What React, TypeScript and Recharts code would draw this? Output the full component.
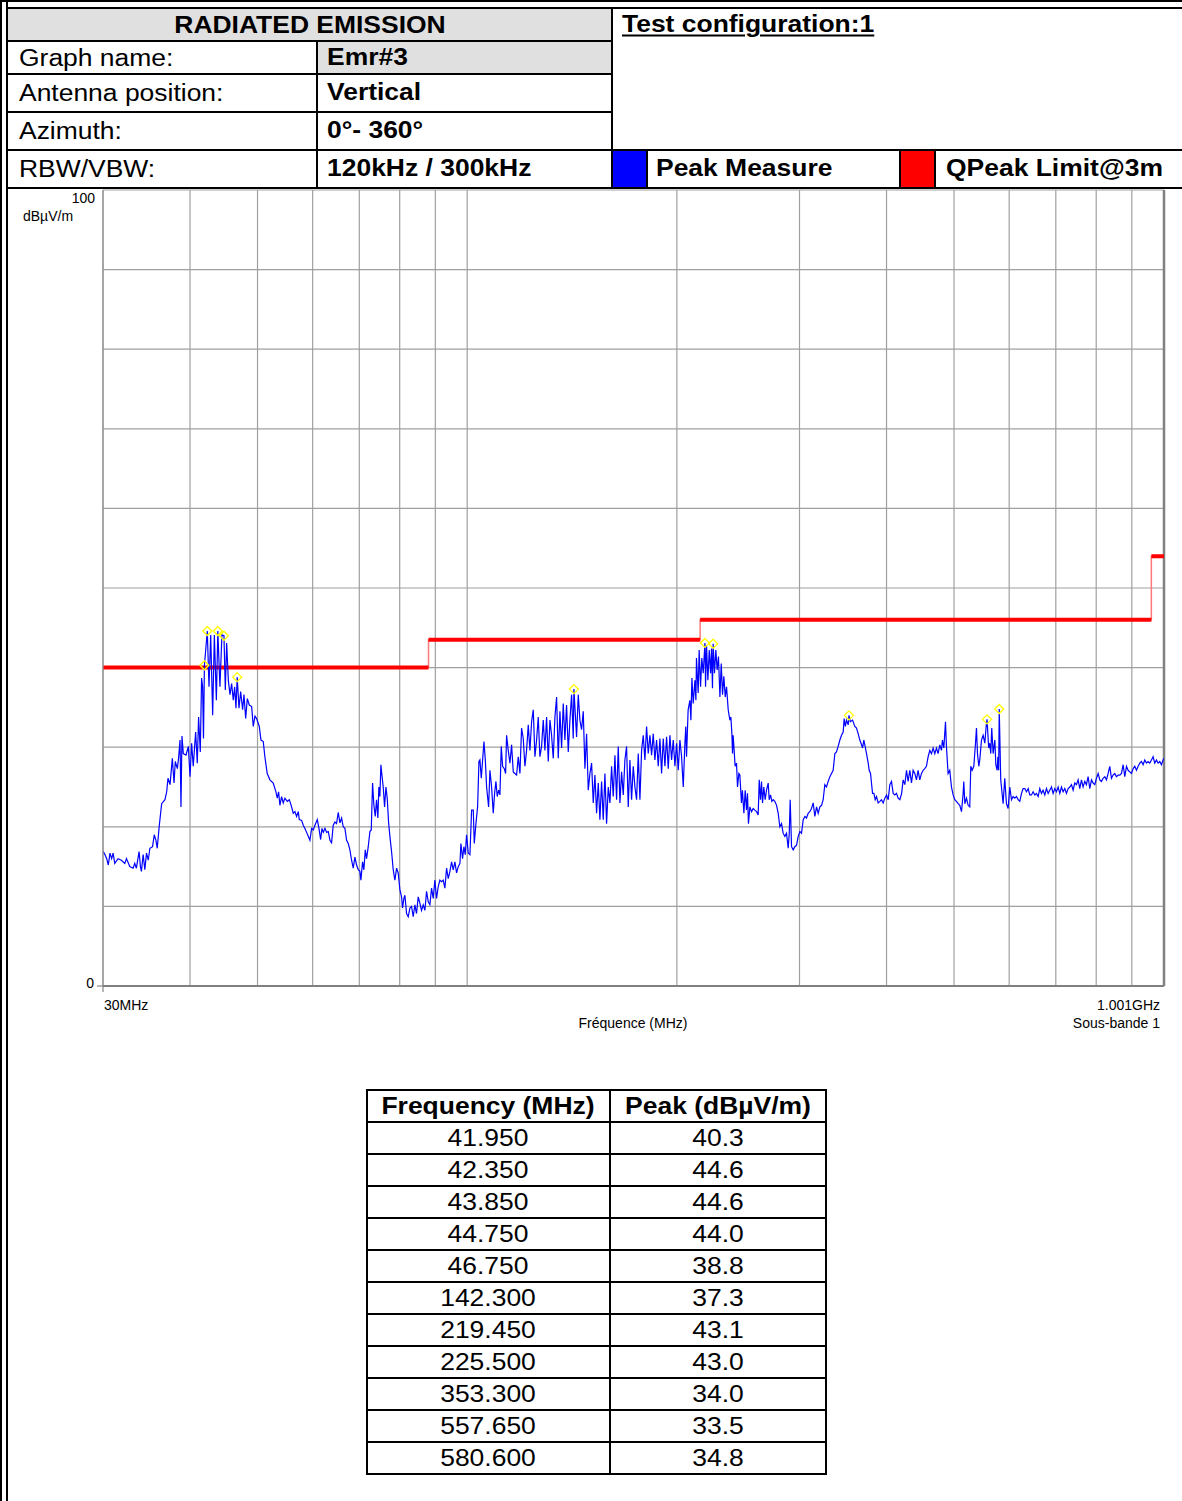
import React from 'react';
import { ComposedChart, Line, Scatter, XAxis, YAxis, CartesianGrid, ReferenceLine } from 'recharts';

const FONT = '"Liberation Sans", Arial, Helvetica, sans-serif';

// Peak Measure trace, [frequency MHz, level dBµV/m]
const traceBand1: [number, number][] = [
  [30.03,16.9],[30.20,16.5],[30.37,16.0],[30.53,15.2],[30.70,16.7],[30.87,16.0],[31.02,16.7],[31.19,15.4],[31.53,16.0],[31.88,15.8],
  [32.24,15.4],[32.42,16.0],[32.78,15.0],[33.14,14.8],[33.32,15.4],[33.50,14.8],[33.80,16.9],[33.95,15.0],[34.06,14.4],[34.26,16.5],
  [34.45,14.6],[34.64,16.7],[34.84,15.8],[35.03,17.3],[35.34,17.5],[35.54,19.0],[35.74,18.3],[35.89,17.3],[36.14,20.2],[36.42,22.9],
  [36.82,23.4],[37.03,24.4],[37.19,26.1],[37.44,25.3],[37.73,28.6],[37.94,25.5],[38.10,28.2],[38.36,27.3],[38.53,28.8],[38.70,30.9],
  [38.82,22.5],[38.95,31.4],[39.12,29.2],[39.47,29.0],[39.78,30.1],[40.00,26.3],[40.21,30.5],[40.43,27.6],[40.75,31.9],[40.97,28.0],
  [41.15,33.8],[41.38,29.4],[41.56,38.7],[41.70,37.6],[41.82,31.1],[41.95,40.3],[42.35,44.6],[42.59,37.6],[42.83,44.1],[43.11,34.0],
  [43.35,44.1],[43.64,35.9],[43.85,44.6],[44.16,37.6],[44.45,44.1],[44.75,44.0],[44.95,37.2],[45.15,43.1],[45.40,38.4],[45.65,36.6],
  [45.90,38.0],[46.15,35.9],[46.36,37.6],[46.56,34.9],[46.75,38.8],[47.03,34.9],[47.29,37.0],[47.60,34.7],[47.81,36.6],[48.08,33.6],
  [48.34,36.1],[48.66,35.3],[49.04,35.1],[49.30,32.6],[49.58,33.9],[49.85,33.6],[50.29,32.6],[50.57,30.9],[50.96,30.7],[51.23,28.8],
  [51.63,26.7],[52.09,25.9],[52.67,25.5],[53.14,24.4],[53.37,23.6],[53.61,24.4],[53.84,22.7],[54.14,23.8],[54.44,23.0],[54.74,23.6],
  [55.17,23.2],[55.54,23.4],
];

const traceBand2: [number, number][] = [
  [55.65,23.2],[55.96,22.5],[56.27,21.7],[56.58,21.9],[56.89,21.3],[57.21,21.9],[57.40,20.9],[57.85,20.8],[58.16,20.2],[58.48,19.8],
  [58.81,19.3],[59.13,18.8],[59.46,18.3],[59.79,19.8],[60.12,19.6],[60.45,20.2],[60.92,20.9],[61.26,19.8],[61.60,18.4],[61.87,19.8],
  [62.14,19.3],[62.49,19.8],[62.83,19.3],[63.18,19.4],[63.53,18.3],[63.87,18.0],[64.22,20.2],[64.58,20.6],[64.93,20.4],[65.29,21.8],
  [65.66,20.5],[66.02,21.1],[66.38,20.0],[66.75,19.8],[67.12,18.3],[67.49,17.9],[67.86,17.1],[68.24,15.8],[68.61,14.8],[68.99,16.2],
  [69.37,15.2],[69.76,14.6],[70.14,14.4],[70.37,13.3],[70.76,15.6],[71.07,14.6],[71.39,17.1],[71.70,16.0],[72.10,17.5],[72.50,19.4],
  [72.82,19.6],[73.14,25.5],[73.46,22.7],[73.79,21.3],[74.11,23.4],[74.43,21.1],[74.68,25.0],[74.93,23.8],[75.18,27.8],[75.43,26.5],
  [75.76,25.0],[76.10,22.5],[76.44,25.0],[76.77,23.6],[77.11,20.6],[77.45,18.8],[77.88,16.9],[78.31,14.6],[78.74,13.3],[79.18,14.8],
  [79.61,14.2],[80.05,12.1],[80.50,11.2],[80.76,9.8],[81.12,11.0],[81.39,11.4],[81.84,9.1],[82.29,8.7],[82.75,9.8],[83.20,10.0],
  [83.66,8.7],[84.12,10.2],[84.58,9.1],[85.05,11.2],[85.52,10.4],[85.99,9.5],[86.47,10.2],[86.95,9.5],[87.43,11.9],[87.91,10.6],
  [88.40,10.2],[88.89,12.3],[89.38,11.0],[89.87,13.3],[90.37,11.0],[90.87,12.5],[91.37,13.3],[91.88,13.1],[92.38,13.3],[92.89,12.3],
  [93.41,14.8],[93.93,13.5],[94.45,14.4],[94.97,15.6],[95.49,14.6],[96.02,15.6],[96.55,14.2],[97.09,15.0],[97.63,15.4],[97.95,17.9],
  [98.48,16.0],[98.92,17.5],[99.35,16.5],[99.80,19.0],[100.35,16.7],[100.91,16.5],[101.47,22.1],[102.03,22.1],[102.37,17.9],[102.93,20.4],
  [103.50,22.5],[103.96,28.2],[104.30,28.4],[104.77,26.1],[105.23,28.4],[105.70,30.7],
];

const traceBand3: [number, number][] = [
  [106.17,28.4],[106.63,25.0],[107.34,22.5],[107.81,27.1],[108.40,25.0],[109.00,21.7],[109.48,24.2],[109.97,25.7],[110.45,23.8],[110.94,24.6],
  [111.43,24.0],[111.92,30.1],[112.42,27.6],[113.04,27.3],[113.54,26.7],[113.91,31.5],[114.54,29.6],[115.18,28.0],[115.81,30.3],[116.45,26.9],
  [117.09,26.7],[117.74,26.5],[118.39,28.8],[119.05,26.7],[119.70,32.4],[120.36,31.1],[121.03,27.6],[121.70,29.6],[122.37,32.8],[123.05,29.6],
  [123.73,33.2],[124.41,34.7],[125.10,28.8],[125.79,30.9],[126.48,33.8],[127.18,28.8],[127.88,30.1],[128.59,33.4],[129.30,29.6],[130.02,33.8],
  [130.74,28.2],[131.46,33.4],[132.18,31.5],[132.91,28.6],[133.65,33.8],[134.39,36.3],[135.13,28.6],[135.88,34.5],[136.63,29.9],[137.38,35.5],
  [138.14,30.9],[138.90,35.3],[139.67,29.4],[140.44,33.4],[141.22,36.6],[142.00,31.1],[142.30,37.3],[143.57,31.3],[144.36,36.6],[145.16,33.4],
  [145.96,32.2],[146.77,34.5],[147.58,27.3],[148.40,31.7],[149.22,24.6],[150.04,26.7],[150.87,28.0],[151.70,23.0],[152.54,26.5],[153.38,21.7],
  [154.23,25.5],[155.08,20.9],[155.94,25.7],[156.80,20.9],[157.67,26.7],[158.54,20.4],[159.42,25.0],[160.30,23.0],[161.18,27.6],[162.07,23.8],
  [162.97,29.0],[163.87,23.4],[164.77,30.1],[165.68,23.0],[166.60,26.9],[167.52,24.0],[168.44,28.4],[169.37,30.1],[170.31,22.5],[171.25,28.4],
  [172.20,23.4],[173.15,27.6],[174.11,25.0],[175.07,23.4],[176.04,29.2],[177.01,23.4],[177.99,29.6],[178.97,31.5],[179.96,28.4],[180.95,32.6],
  [181.95,29.2],[182.96,31.5],[183.97,29.0],[184.98,31.7],[186.00,28.4],[187.03,30.9],[188.07,27.6],[189.11,31.1],[190.15,26.7],[191.20,31.1],
  [192.26,27.6],[193.32,31.3],[194.39,27.3],[195.46,31.5],[196.54,28.4],[197.63,30.9],[198.72,27.6],[199.82,30.5],[200.92,27.1],[202.03,30.9],
  [203.15,28.8],[204.27,25.0],
];

const traceBand4: [number, number][] = [
  [205.4,30.5],[206.0,32.6],[206.5,28.8],[207.6,34.7],[208.8,35.9],[209.5,33.4],[210.2,38.7],[211.1,35.5],[212.3,38.4],[213.0,35.9],
  [213.4,41.2],[214.6,36.8],[215.3,42.2],[216.3,37.6],[217.2,41.2],[218.2,39.3],[219.45,43.1],[219.9,37.6],[220.6,42.8],[221.6,38.4],
  [222.6,42.2],[223.6,39.3],[224.3,42.4],[225.0,37.4],[225.5,43.0],[226.5,39.3],[227.5,42.2],[228.5,39.7],[229.5,41.4],[230.6,36.3],
  [231.6,40.5],[232.6,36.6],[233.6,38.9],[234.7,36.3],[235.7,37.6],[237.0,34.7],[238.3,33.4],[239.1,33.8],[239.9,31.7],[240.4,29.2],
  [240.9,31.5],[241.7,29.6],[242.5,27.6],[243.6,28.0],[244.4,25.0],[245.5,26.7],[246.3,26.5],[247.6,23.0],[248.4,24.6],[249.6,21.7],
  [250.7,24.6],[251.8,22.1],[252.6,24.2],[253.4,20.4],[254.6,22.5],[256.0,21.9],[257.4,22.3],[258.8,22.1],[260.3,21.9],[261.7,21.5],
  [262.6,25.9],[263.7,23.4],[264.6,25.7],[265.5,23.0],[266.6,25.0],[267.8,23.4],[269.0,24.6],[270.5,25.5],[271.4,23.4],[272.6,24.0],
  [273.8,23.2],[275.0,23.4],[276.5,23.2],[278.1,22.7],[279.6,21.7],[281.1,20.0],[282.7,20.4],[284.2,19.2],[285.8,18.8],[287.4,19.2],
  [289.0,17.3],[290.0,19.2],[290.9,23.4],[292.2,17.5],[293.8,17.1],[295.4,17.5],[297.1,17.7],[298.7,18.8],[300.4,19.4],[302.0,19.2],
  [303.7,20.9],[305.4,21.3],[307.0,21.1],[308.7,21.7],[310.4,21.9],[312.1,22.3],[313.9,23.0],[315.6,21.3],[317.4,22.5],[319.1,21.7],
  [320.9,22.5],[322.7,22.7],[324.4,23.4],[326.2,25.3],[328.0,25.0],[329.8,25.7],[331.7,26.3],[333.5,26.7],[335.3,27.1],[337.2,29.2],
  [339.0,29.4],[340.9,30.1],[342.8,30.9],[344.7,31.5],[346.6,31.9],[347.7,33.6],[349.1,32.6],[350.4,33.4],[352.4,32.8],[353.3,34.0],
  [354.9,33.2],[357.5,33.4],[360.2,32.6],[362.2,32.4],[364.2,31.7],[366.2,30.9],[368.3,30.3],[369.5,29.9],[371.1,30.9],[372.3,30.3],
  [374.4,29.2],[376.5,28.0],[377.7,27.1],[379.4,26.7],[380.6,25.5],[381.9,24.2],[383.6,24.2],[385.3,23.4],[387.0,23.8],[389.1,23.0],
  [391.3,23.2],[393.4,23.4],[395.6,23.0],[397.8,23.6],[400.0,24.0],[402.2,23.4],[404.4,25.3],[406.6,25.7],[408.9,24.2],[411.2,24.0],
  [413.4,24.2],[415.7,23.6],[418.0,23.4],
];

const traceBand5: [number, number][] = [
  [420.5,24.2],[422.6,25.9],[425.0,25.3],[427.3,27.1],[429.6,25.7],[432.0,27.1],[434.4,25.5],[436.8,27.1],[439.2,26.7],[441.6,25.9],
  [444.0,27.1],[446.5,25.9],[449.0,26.7],[451.4,27.1],[453.9,27.3],[456.4,27.6],[459.0,28.8],[461.5,29.6],[464.1,29.2],[466.6,29.9],
  [469.2,29.2],[471.8,29.9],[474.4,29.2],[477.0,30.3],[479.7,29.6],[481.2,30.9],[483.4,29.9],[486.1,33.2],[487.6,30.1],[490.3,26.7],
  [493.0,27.1],[495.8,25.0],[498.5,24.0],[501.3,23.4],[504.0,23.2],[506.9,22.9],[509.6,22.7],[512.5,21.9],[515.3,24.2],[516.4,25.7],
  [518.2,22.9],[521.0,23.6],[523.9,22.7],[526.7,22.5],[528.5,27.6],[530.8,27.1],[533.8,27.6],[536.8,30.5],[538.5,32.4],[540.3,29.2],
  [542.7,27.6],[544.4,28.4],[547.5,30.9],[550.5,31.5],[553.6,30.5],[556.0,32.6],[557.65,33.5],[560.7,29.9],[562.7,30.5],[564.6,29.2],
  [566.4,32.4],[569.0,29.2],[572.2,30.9],[574.1,27.8],[576.6,27.1],[578.0,28.8],[579.5,27.1],[580.6,34.8],[583.5,25.9],[588.1,22.9],
  [591.3,26.1],[594.6,22.9],[597.9,22.3],[601.2,25.0],[604.6,23.4],[607.9,23.8],[611.3,23.6],[614.6,23.8],[618.1,23.4],[621.4,23.2],
  [625.0,24.2],[628.3,24.8],[631.9,24.8],[635.3,24.4],[638.9,24.8],[642.3,24.0],[645.9,24.0],[649.4,24.4],[653.1,24.0],[656.6,24.2],
  [660.3,23.8],[663.9,24.8],[667.6,24.2],[671.2,24.6],[675.0,24.0],[678.7,24.8],[682.5,24.2],[686.2,24.6],[690.1,25.0],[693.8,24.2],
  [697.7,24.8],[701.5,24.4],[705.4,25.0],[709.3,24.2],[713.2,25.0],[717.1,24.4],[721.1,24.8],[725.1,24.2],[729.1,24.8],[733.1,25.0],
  [737.2,25.3],[741.2,24.6],[745.3,25.5],[749.4,25.3],[753.6,25.9],[757.7,24.8],[761.9,25.9],[766.1,25.0],[770.4,25.7],[774.6,25.3],
  [778.9,26.3],[783.2,24.8],[787.6,25.9],[791.9,25.5],[796.3,25.3],[800.7,26.1],[805.2,26.7],[809.5,25.9],[814.0,25.7],[818.5,26.1],
  [823.1,26.3],[827.6,25.9],[832.2,26.7],[836.7,27.6],[841.4,26.1],[846.0,26.5],[850.7,26.7],[855.4,26.3],[860.2,26.5],[864.9,26.5],
  [869.7,26.7],[874.5,27.8],[879.3,26.3],[884.2,27.6],[889.1,27.1],[893.9,26.9],[898.9,26.7],[903.8,27.3],[908.8,27.6],[913.9,27.1],
  [918.9,27.6],[924.0,28.0],[929.1,28.2],[934.2,27.8],[939.4,28.4],[944.6,28.0],[949.8,28.2],[955.0,28.0],[960.3,28.4],[965.6,28.8],
  [970.9,28.0],[976.3,28.4],[981.7,28.0],[987.1,28.2],[992.6,27.8],[998.0,28.4],[1001.0,28.6],
];

// Peak table / markers
const peakFreqs = [41.95, 42.35, 43.85, 44.75, 46.75, 142.3, 219.45, 225.5, 353.3, 557.65, 580.6];
const peakLevels = [40.3, 44.6, 44.6, 44.0, 38.8, 37.3, 43.1, 43.0, 34.0, 33.5, 34.8];

// QPeak limit @3m
const limitEdges = [30, 88, 216, 960, 1001];
const limitLevels = [40, 43.5, 46, 54];

// axes
const xGridTicks = [30, 40, 50, 60, 70, 80, 90, 100, 200, 300, 400, 500, 600, 700, 800, 900, 1000, 1001];
const yGridTicks = [0, 10, 20, 30, 40, 50, 60, 70, 80, 90, 100];

// header texts
const headerLabels = ['Graph name:', 'Antenna position:', 'Azimuth:', 'RBW/VBW:'];
const headerValues = ['Emr#3', 'Vertical', '0°- 360°', '120kHz / 300kHz'];

const traceData = [...traceBand1, ...traceBand2, ...traceBand3, ...traceBand4, ...traceBand5].map(([f, v]) => ({ f, v }));
const limitStep: { f: number; v: number }[] = [];
const limitFlat: { f: number; v: number | null }[] = [];
limitLevels.forEach((lv, i) => {
  limitStep.push({ f: limitEdges[i], v: lv }, { f: limitEdges[i + 1], v: lv });
  limitFlat.push({ f: limitEdges[i], v: lv }, { f: limitEdges[i + 1], v: lv }, { f: limitEdges[i + 1], v: null });
});
const markers = peakFreqs.map((f, i) => ({ f, v: peakLevels[i] }));

const SX = 1.15;

type TProps = { x: number; y: number; children: React.ReactNode; bold?: boolean; size?: number; anchor?: 'start' | 'middle' | 'end'; sx?: number; underline?: boolean };
const T = ({ x, y, children, bold, size = 23, anchor = 'start', sx = SX, underline }: TProps) => {
  const tx = anchor === 'middle' ? '-50%' : anchor === 'end' ? '-100%' : '0';
  const origin = anchor === 'middle' ? 'center' : anchor === 'end' ? 'right' : 'left';
  return (
    <div
      style={{
        position: 'absolute', left: x, top: y, transform: `translate(${tx}, -50%) scaleX(${sx})`, transformOrigin: origin,
        fontSize: size, fontWeight: bold ? 700 : 400, whiteSpace: 'nowrap', lineHeight: 1, color: '#000',
        textDecoration: underline ? 'underline' : 'none', textDecorationThickness: underline ? 2 : undefined, textUnderlineOffset: underline ? 3 : undefined,
      }}
    >
      {children}
    </div>
  );
};

const Box = ({ x, y, w, h, bg = '#000' }: { x: number; y: number; w: number; h: number; bg?: string }) => (
  <div style={{ position: 'absolute', left: x, top: y, width: w, height: h, background: bg }} />
);

const XTick = (props: any) => {
  const { x, y, payload } = props;
  const v = payload.value;
  if (v === 30) {
    return (
      <g>
        <line x1={x} y1={y} x2={x} y2={y + 6} stroke="#707070" strokeWidth={1} />
        <text x={x + 1} y={y + 24} fontSize={14} fontFamily={FONT} fill="#000" textAnchor="start">30MHz</text>
      </g>
    );
  }
  if (v === 1001) {
    return <text x={x - 4} y={y + 24} fontSize={14} fontFamily={FONT} fill="#000" textAnchor="end">1.001GHz</text>;
  }
  return null;
};

const YTick = (props: any) => {
  const { x, y, payload } = props;
  const v = payload.value;
  if (v === 100) {
    return (
      <g>
        <text x={x - 8} y={y + 13} fontSize={14} fontFamily={FONT} fill="#000" textAnchor="end">100</text>
        <text x={x - 80} y={y + 31} fontSize={14} fontFamily={FONT} fill="#000" textAnchor="start">dBµV/m</text>
      </g>
    );
  }
  if (v === 0) {
    return (
      <g>
        <line x1={x - 6} y1={y} x2={x} y2={y} stroke="#707070" strokeWidth={1} />
        <text x={x - 9} y={y + 2} fontSize={14} fontFamily={FONT} fill="#000" textAnchor="end">0</text>
      </g>
    );
  }
  return null;
};

const Diamond = (props: any) => {
  const { cx, cy } = props;
  if (cx == null || cy == null) return null;
  const r = 4.5;
  return <path d={`M${cx},${cy - r}L${cx + r},${cy}L${cx},${cy + r}L${cx - r},${cy}Z`} fill="none" stroke="#ffff00" strokeWidth={1.3} />;
};

const rowTops = [9, 42, 75, 113, 151];
const rowBottoms = [40, 73, 111, 149, 187];

export default function App() {
  const tableTop = 1089;
  const rowH = 32;
  return (
    <div style={{ position: 'absolute', left: 0, top: 0, width: 1182, height: 1501, background: '#fff', overflow: 'hidden', fontFamily: FONT }}>
      {/* grey fills */}
      <Box x={8} y={9} w={603} h={31} bg="#e0e0e0" />
      <Box x={318} y={42} w={293} h={31} bg="#e0e0e0" />
      {/* legend colour boxes */}
      <Box x={613} y={151} w={33} h={36} bg="#0000ff" />
      <Box x={901} y={151} w={33} h={36} bg="#ff0000" />

      {/* page frame */}
      <Box x={0} y={0} w={2} h={1501} />
      <Box x={6} y={0} w={2} h={1501} />
      <Box x={0} y={0} w={1182} h={2} />
      <Box x={6} y={7} w={1176} h={2} />

      {/* header grid */}
      <Box x={8} y={40} w={604} h={2} />
      <Box x={8} y={73} w={604} h={2} />
      <Box x={8} y={111} w={604} h={2} />
      <Box x={8} y={149} w={1174} h={2} />
      <Box x={8} y={187} w={1174} h={2} />
      <Box x={316} y={40} w={2} h={149} />
      <Box x={611} y={7} w={2} h={182} />
      <Box x={646} y={149} w={2} h={40} />
      <Box x={899} y={149} w={2} h={40} />
      <Box x={934} y={149} w={2} h={40} />

      <T x={310} y={25} bold anchor="middle">RADIATED EMISSION</T>
      {headerLabels.map((l, i) => (
        <T key={l} x={19} y={(rowTops[i + 1] + rowBottoms[i + 1]) / 2}>{l}</T>
      ))}
      {headerValues.map((v, i) => (
        <T key={v} x={327} y={(rowTops[i + 1] + rowBottoms[i + 1]) / 2 - 1} bold>{v}</T>
      ))}
      <T x={622} y={24} bold underline>Test configuration:1</T>
      <T x={656} y={168} bold>Peak Measure</T>
      <T x={946} y={168} bold>QPeak Limit@3m</T>

      {/* chart */}
      <div style={{ position: 'absolute', left: 0, top: 180 }}>
        <ComposedChart width={1182} height={870} margin={{ top: 10, right: 18, bottom: 0, left: 0 }}>
          <CartesianGrid stroke="#a0a0a0" strokeWidth={1.2} />
          <XAxis
            dataKey="f" type="number" scale="log" domain={[30, 1001]} allowDataOverflow ticks={xGridTicks} interval={0}
            height={64} tickSize={0} tickMargin={0} tick={<XTick />} tickLine={false}
            axisLine={{ stroke: '#808080', strokeWidth: 2 }}
          />
          <YAxis
            type="number" domain={[0, 100]} ticks={yGridTicks} interval={0} width={103} tickSize={0} tickMargin={0}
            tick={<YTick />} tickLine={false} axisLine={{ stroke: '#909090', strokeWidth: 1.2 }}
          />
          <ReferenceLine x={1001} stroke="#808080" strokeWidth={2.5} />
          <Line data={limitStep} dataKey="v" type="linear" stroke="#ff7878" strokeWidth={1.5} dot={false} isAnimationActive={false} />
          <Line data={limitFlat} dataKey="v" type="linear" stroke="#ff0000" strokeWidth={4} dot={false} isAnimationActive={false} connectNulls={false} />
          <Line data={traceData} dataKey="v" type="linear" stroke="#0000ff" strokeWidth={1.2} dot={false} isAnimationActive={false} />
          <Scatter data={markers} dataKey="v" shape={Diamond} isAnimationActive={false} />
        </ComposedChart>
      </div>
      <T x={633} y={1023} size={14} sx={1} anchor="middle">Fréquence (MHz)</T>
      <T x={1160} y={1023} size={14} sx={1} anchor="end">Sous-bande 1</T>

      {/* peak table */}
      {Array.from({ length: peakFreqs.length + 2 }).map((_, i) => (
        <Box key={'h' + i} x={366} y={tableTop + i * rowH} w={461} h={2} />
      ))}
      <Box x={366} y={tableTop} w={2} h={rowH * (peakFreqs.length + 1) + 2} />
      <Box x={609} y={tableTop} w={2} h={rowH * (peakFreqs.length + 1) + 2} />
      <Box x={825} y={tableTop} w={2} h={rowH * (peakFreqs.length + 1) + 2} />
      <T x={488} y={tableTop + 17} bold anchor="middle">Frequency (MHz)</T>
      <T x={718} y={tableTop + 17} bold anchor="middle">Peak (dBµV/m)</T>
      {peakFreqs.map((f, i) => (
        <React.Fragment key={'r' + i}>
          <T x={488} y={tableTop + 17 + (i + 1) * rowH} anchor="middle">{f.toFixed(3)}</T>
          <T x={718} y={tableTop + 17 + (i + 1) * rowH} anchor="middle">{peakLevels[i].toFixed(1)}</T>
        </React.Fragment>
      ))}
    </div>
  );
}
